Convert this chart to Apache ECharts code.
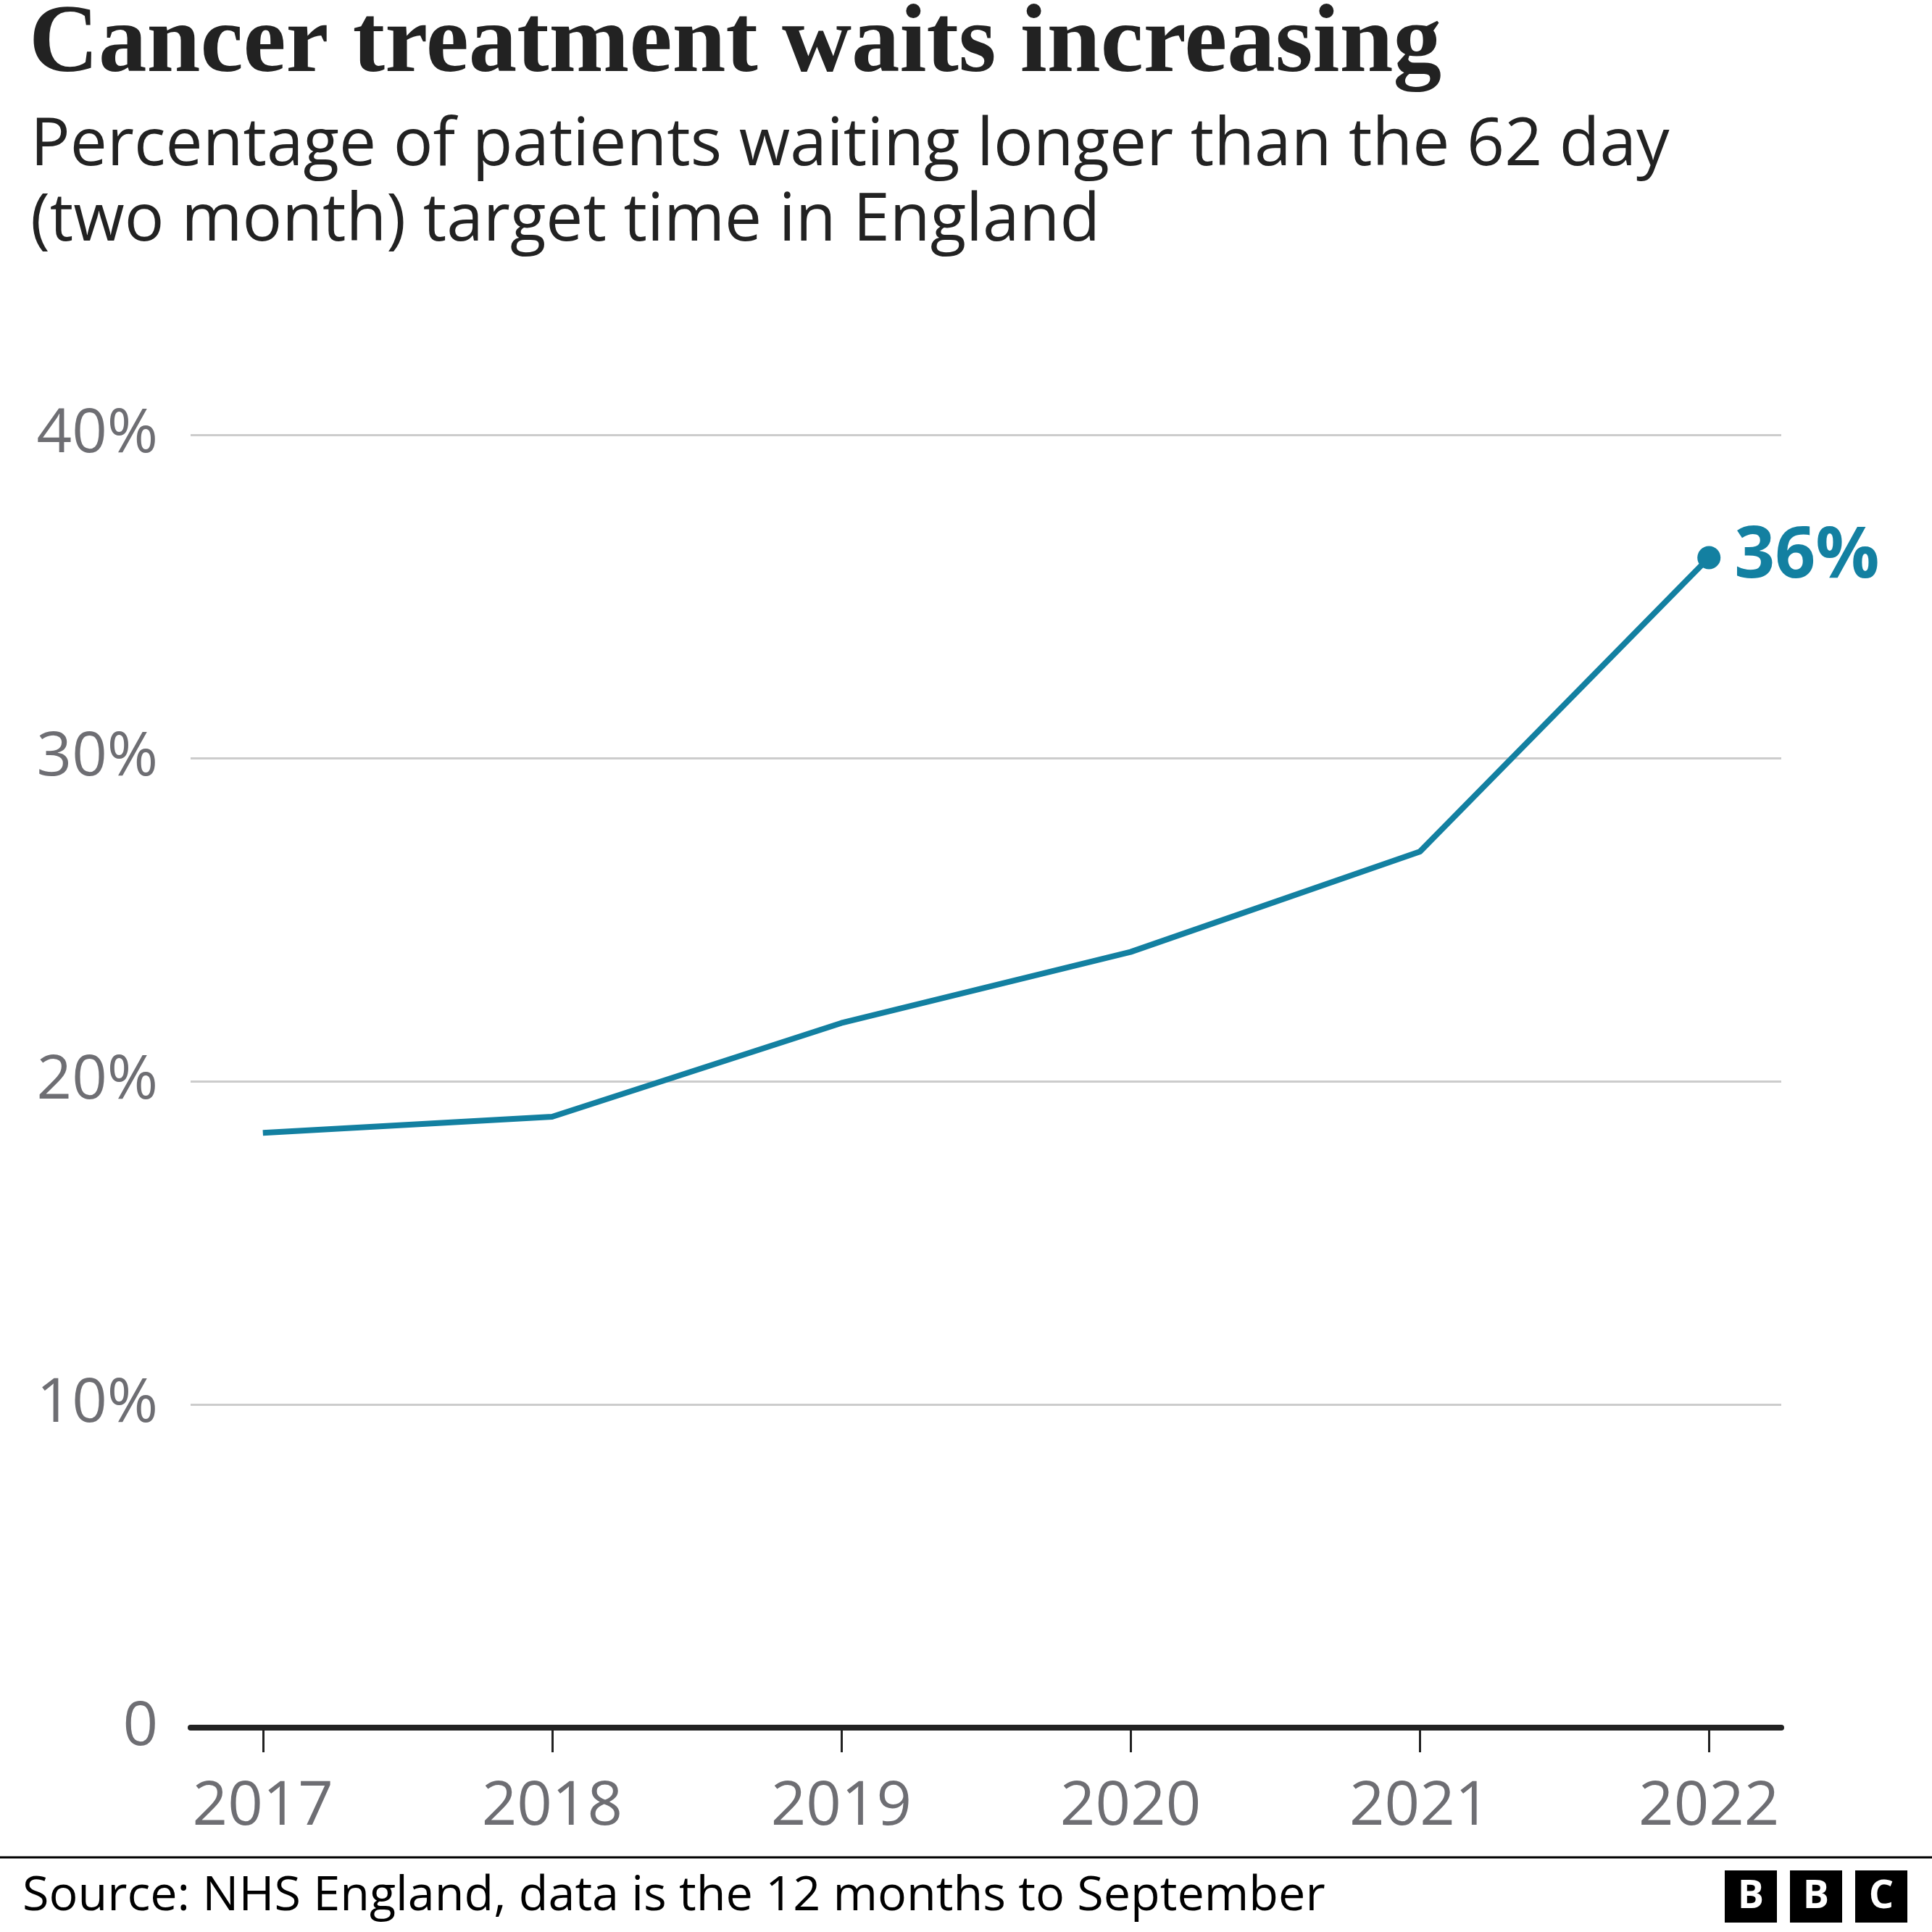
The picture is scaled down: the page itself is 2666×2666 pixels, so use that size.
<!DOCTYPE html>
<html><head><meta charset="utf-8">
<script src="https://cdn.jsdelivr.net/npm/echarts@6/dist/echarts.min.js"></script>
<style>html,body{margin:0;padding:0;background:#fff}#c{width:2666px;height:2666px}</style>
</head><body><div id="c"></div>
<script>
// ---- data ----
const years = [2017, 2018, 2019, 2020, 2021, 2022];
const pctOverTarget = [18.4, 18.9, 21.8, 24.0, 27.1, 36.2];
const yTickValues = [0, 10, 20, 30, 40];
const titleText = 'Cancer treatment waits increasing';
const subtitleText = 'Percentage of patients waiting longer than the 62 day\n(two month) target time in England';
const sourceText = 'Source: NHS England, data is the 12 months to September';
const logoLetters = ['B', 'B', 'C'];

// ---- styles ----
const TEAL = '#1380a1';
const DARK = '#222222';
const GREY = '#6e6e73';
const SANS = 'Open Sans';

const seriesData = years.map((y, i) => [y, pctOverTarget[i]]);
const lastIdx = years.length - 1;

const logoGraphics = [];
logoLetters.forEach((ch, i) => {
  const x = 2380 + i * 90;
  logoGraphics.push({ type: 'rect', shape: { x: x, y: 2581, width: 72, height: 72 }, style: { fill: '#000' } });
  logoGraphics.push({ type: 'text', style: { text: ch, x: x + 36, y: 2618, align: 'center', verticalAlign: 'middle',
    fontFamily: SANS, fontWeight: 'bold', fontSize: 54, fill: '#fff' } });
});

const chart = echarts.init(document.getElementById('c'), null, { renderer: 'canvas' });
chart.setOption({
  backgroundColor: '#ffffff',
  animation: false,
  title: [
    { text: titleText, left: 40, top: 14, padding: 0,
      textStyle: { fontFamily: 'Liberation Serif', fontWeight: 'bold', fontSize: 133, lineHeight: 100, color: DARK } },
    { text: subtitleText, left: 42, top: 150, padding: 0,
      textStyle: { fontFamily: SANS, fontWeight: 'normal', fontSize: 91, lineHeight: 104, color: DARK } },
    { text: sourceText, left: 31, top: 2584, padding: 0,
      textStyle: { fontFamily: SANS, fontWeight: 'normal', fontSize: 66.5, lineHeight: 66, color: '#000' } }
  ],
  graphic: [
    { type: 'line', shape: { x1: 0, y1: 2563, x2: 2666, y2: 2563 }, style: { stroke: '#000', lineWidth: 3 } }
  ].concat(logoGraphics),
  grid: { left: 263, right: 208, top: 600, bottom: 282, containLabel: false },
  xAxis: {
    type: 'value', min: 2016.75, max: 2022.25,
    splitLine: { show: false },
    axisLine: { show: true, onZero: true, lineStyle: { color: DARK, width: 8 } },
    axisTick: { show: true, customValues: years, length: 34, lineStyle: { color: DARK, width: 3 } },
    axisLabel: { show: true, customValues: years, formatter: v => String(v), margin: 70,
      fontFamily: SANS, fontSize: 85, lineHeight: 80, color: GREY }
  },
  yAxis: {
    type: 'value', min: 0, max: 40, interval: 10,
    axisLine: { show: false }, axisTick: { show: false },
    splitLine: { show: true, lineStyle: { color: '#cccccc', width: 3 } },
    axisLabel: { margin: 45, fontFamily: SANS, fontSize: 85, color: GREY,
      formatter: v => (v === 0 ? '0' : v + '%') }
  },
  series: [
    { type: 'line', data: seriesData, symbol: 'none', lineStyle: { color: TEAL, width: 8 }, z: 3 },
    { type: 'scatter', data: [seriesData[lastIdx]], symbol: 'circle', symbolSize: 32,
      itemStyle: { color: TEAL, opacity: 1 }, z: 4,
      label: { show: true, position: 'right', distance: 19, fontFamily: SANS, fontWeight: 'bold',
        fontSize: 98, color: TEAL, opacity: 1, formatter: p => Math.round(p.value[1]) + '%' } }
  ]
});
</script>
</body></html>
